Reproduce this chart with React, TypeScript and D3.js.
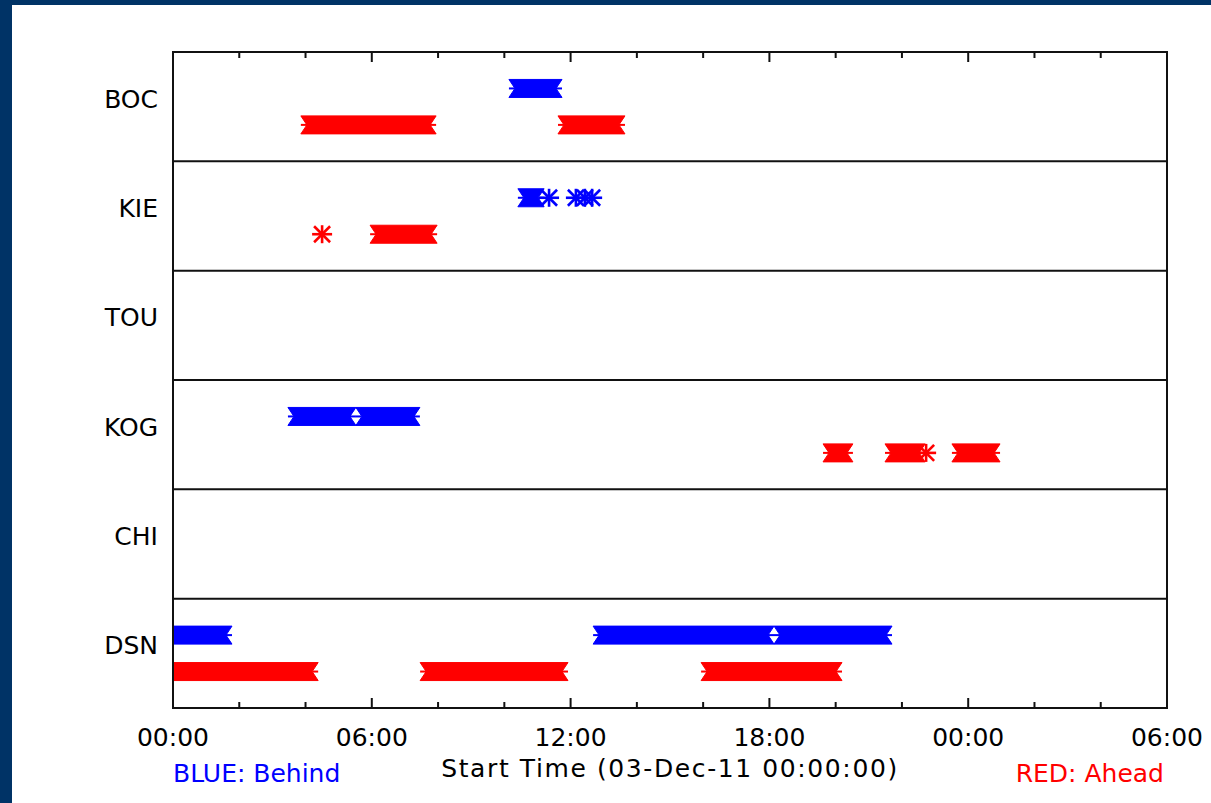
import React from "react";
import * as d3 from "d3";

// Stations (rows, top to bottom)
const stations = ["BOC", "KIE", "TOU", "KOG", "CHI", "DSN"];

// Time window: hours after 03-Dec-11 00:00:00
const startDate = new Date(2011, 11, 3, 0, 0, 0);
const endHours = 30;

// BLUE: Behind — continuous intervals [station, startHour, endHour]
const behindIntervals: [string, number, number][] = [
  ["BOC", 10.32, 11.56],
  ["KIE", 10.59, 11.02],
  ["KOG", 3.65, 5.34],
  ["KOG", 5.7, 7.27],
  ["DSN", 0.0, 1.6],
  ["DSN", 12.86, 17.96],
  ["DSN", 18.32, 21.52],
];
// BLUE: Behind — isolated samples [station, hour]
const behindPoints: [string, number][] = [
  ["KIE", 11.35],
  ["KIE", 12.16],
  ["KIE", 12.43],
  ["KIE", 12.65],
];

// RED: Ahead — continuous intervals
const aheadIntervals: [string, number, number][] = [
  ["BOC", 4.04, 7.76],
  ["BOC", 11.8, 13.46],
  ["KIE", 6.13, 7.79],
  ["KOG", 19.8, 20.34],
  ["KOG", 21.67, 22.52],
  ["KOG", 23.69, 24.78],
  ["DSN", 0.0, 4.2],
  ["DSN", 7.64, 11.74],
  ["DSN", 16.12, 20.01],
];
// RED: Ahead — isolated samples
const aheadPoints: [string, number][] = [
  ["KIE", 4.5],
  ["KOG", 22.73],
];

const titleText = "Start Time (03-Dec-11 00:00:00)";
const behindLabel = "BLUE: Behind";
const aheadLabel = "RED: Ahead";

const BLUE = "#0000ff";
const RED = "#ff0000";
const FONT = "'DejaVu Sans', Verdana, sans-serif";

const toDate = (h: number) => new Date(startDate.getTime() + h * 3600 * 1000);

export default function App() {
  const W = 1211;
  const H = 803;
  const left = 173;
  const right = 1167;
  const top = 52;
  const bottom = 708;

  const x = d3
    .scaleTime()
    .domain([startDate, toDate(endHours)])
    .range([left, right]);
  const y = d3.scaleBand<string>().domain(stations).range([top, bottom]).padding(0);
  const bw = y.bandwidth();
  const yBehind = (s: string) => (y(s) as number) + bw / 3;
  const yAhead = (s: string) => (y(s) as number) + (2 * bw) / 3;

  const minorTicks = x.ticks(d3.timeHour.every(2) as any);
  const majorTicks = x.ticks(d3.timeHour.every(6) as any);
  const fmt = d3.timeFormat("%H:%M");

  const r = 9;
  const c = 6;
  const ribbon = (xa: number, xb: number, yc: number, color: string, key: string) => {
    const p = d3.path();
    p.moveTo(xa - c, yc - r);
    p.lineTo(xb + c, yc - r);
    p.lineTo(xb, yc);
    p.lineTo(xb + c, yc + r);
    p.lineTo(xa - c, yc + r);
    p.lineTo(xa, yc);
    p.closePath();
    return (
      <g key={key}>
        <path d={p.toString()} fill={color} stroke={color} strokeWidth={1} strokeLinejoin="miter" />
        <line x1={xa - c} x2={xa} y1={yc} y2={yc} stroke={color} strokeWidth={2} />
        <line x1={xb} x2={xb + c} y1={yc} y2={yc} stroke={color} strokeWidth={2} />
      </g>
    );
  };
  const asterisk = (xc: number, yc: number, color: string, key: string) => (
    <g key={key} stroke={color} strokeWidth={2.6}>
      <line x1={xc - 10} x2={xc + 10} y1={yc} y2={yc} />
      <line x1={xc} x2={xc} y1={yc - r} y2={yc + r} />
      <line x1={xc - 8} x2={xc + 8} y1={yc - 8} y2={yc + 8} />
      <line x1={xc - 8} x2={xc + 8} y1={yc + 8} y2={yc - 8} />
    </g>
  );

  return (
    <svg
      width={W}
      height={H}
      style={{ position: "absolute", left: 0, top: 0, display: "block" }}
      fontFamily={FONT}
    >
      <defs>
        <clipPath id="plotClip">
          <rect x={left} y={top} width={right - left} height={bottom - top} />
        </clipPath>
      </defs>
      <rect x={0} y={0} width={W} height={H} fill="#003366" />
      <rect x={12} y={5} width={W - 12} height={H - 5} fill="#ffffff" />

      {/* marks */}
      <g clipPath="url(#plotClip)">
        {behindIntervals.map((d, i) =>
          ribbon(x(toDate(d[1])), x(toDate(d[2])), yBehind(d[0]), BLUE, "bi" + i)
        )}
        {aheadIntervals.map((d, i) =>
          ribbon(x(toDate(d[1])), x(toDate(d[2])), yAhead(d[0]), RED, "ai" + i)
        )}
        {behindPoints.map((d, i) => asterisk(x(toDate(d[1])), yBehind(d[0]), BLUE, "bp" + i))}
        {aheadPoints.map((d, i) => asterisk(x(toDate(d[1])), yAhead(d[0]), RED, "ap" + i))}
      </g>

      {/* row separators */}
      {stations.slice(1).map((s) => (
        <line
          key={"sep" + s}
          x1={left}
          x2={right}
          y1={y(s) as number}
          y2={y(s) as number}
          stroke="#111"
          strokeWidth={2}
        />
      ))}

      {/* ticks */}
      {minorTicks.map((t, i) => {
        const isMajor = t.getHours() % 6 === 0;
        const len = isMajor ? 10 : 6;
        const xx = x(t);
        return (
          <g key={"t" + i} stroke="#111" strokeWidth={2}>
            <line x1={xx} x2={xx} y1={bottom} y2={bottom - len} />
            <line x1={xx} x2={xx} y1={top} y2={top + len} />
          </g>
        );
      })}

      {/* frame */}
      <rect
        x={left}
        y={top}
        width={right - left}
        height={bottom - top}
        fill="none"
        stroke="#111"
        strokeWidth={2}
      />

      {/* tick labels */}
      {majorTicks.map((t, i) => (
        <text key={"tl" + i} x={x(t)} y={746} textAnchor="middle" fontSize={25} fill="#000">
          {fmt(t)}
        </text>
      ))}

      {/* row labels */}
      {stations.map((s) => (
        <text
          key={"rl" + s}
          x={158}
          y={(y(s) as number) + bw / 2 + 1}
          textAnchor="end"
          fontSize={25}
          fill="#000"
        >
          {s}
        </text>
      ))}

      <text
        x={(left + right) / 2}
        y={777}
        textAnchor="middle"
        fontSize={25}
        letterSpacing={1.6}
        fill="#000"
      >
        {titleText}
      </text>
      <text x={left} y={782} textAnchor="start" fontSize={25} fill={BLUE}>
        {behindLabel}
      </text>
      <text x={1164} y={782} textAnchor="end" fontSize={25} fill={RED}>
        {aheadLabel}
      </text>
    </svg>
  );
}
